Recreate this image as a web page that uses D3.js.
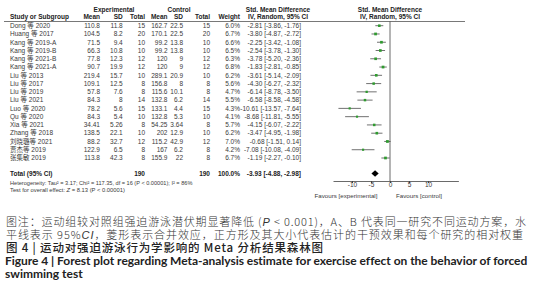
<!DOCTYPE html>
<html>
<head>
<meta charset="utf-8">
<script src="https://cdn.jsdelivr.net/npm/d3@7"></script>
<style>
  body { margin: 0; background: #fff; }
  svg { display: block; font-family: "Liberation Sans", Arial, "Noto Sans CJK SC", sans-serif; }
</style>
</head>
<body>
<svg id="chart"></svg>
<script>
// Study rows
const studies = ["Dong 等 2020", "Huang 等 2017", "Kang 等 2019-A", "Kang 等 2019-B", "Kang 等 2021-B", "Kang 等 2021-A",
  "Liu 等 2013", "Liu 等 2017", "Liu 等 2019", "Liu 等 2021", "Luo 等 2020", "Qu 等 2020", "Xia 等 2021",
  "Zhang 等 2018", "刘晓璐等 2021", "贾杰等 2019", "张集敏 2019"];
const expMean = [110.8, 104.5, 71.5, 66.3, 77.8, 90.7, 219.4, 109.1, 57.8, 84.3, 78.2, 84.3, 34.41, 138.5, 88.2, 122.9, 113.8];
const expSD = [11.8, 8.2, 9.4, 10.8, 12.3, 19.9, 15.7, 12.5, 7.6, 8, 5.6, 5.4, 5.26, 22.1, 32.7, 6.5, 42.3];
const expN = [15, 20, 10, 10, 12, 12, 10, 8, 8, 14, 15, 10, 8, 10, 12, 8, 8];
const ctlMean = [162.7, 170.1, 99.2, 99.2, 120, 120, 289.1, 156.8, 115.6, 132.8, 133.1, 132.8, 54.25, 202, 115.2, 167, 155.9];
const ctlSD = [22.5, 22.5, 13.8, 13.8, 9, 9, 20.9, 8, 10.1, 6.2, 4.4, 5.3, 3.64, 12.9, 42.9, 6.2, 22];
const ctlN = [15, 20, 10, 10, 12, 12, 10, 8, 8, 14, 15, 10, 8, 10, 12, 8, 8];
const weights = [6.0, 6.7, 6.6, 6.5, 6.3, 6.8, 6.2, 5.6, 4.7, 5.5, 4.3, 4.1, 5.7, 6.2, 7.0, 4.2, 6.7];
const smd = [-2.81, -3.80, -2.25, -2.54, -3.78, -1.83, -3.61, -4.30, -6.14, -6.58, -10.61, -8.68, -4.15, -3.47, -0.68, -7.08, -1.19];
const ciLow = [-3.86, -4.87, -3.42, -3.78, -5.20, -2.81, -5.14, -6.27, -8.78, -8.58, -13.57, -11.81, -6.07, -4.95, -1.51, -10.08, -2.27];
const ciHigh = [-1.76, -2.72, -1.08, -1.30, -2.36, -0.85, -2.09, -2.32, -3.50, -4.58, -7.64, -5.55, -2.22, -1.98, 0.14, -4.09, -0.10];

// Pooled result
const totalExp = 190;
const totalCtl = 190;
const pooled = [-3.93, -4.88, -2.98];

// Axis ticks and captions
const tickValues = [-10, -5, 0, 5, 10];
const heterogeneity = "Heterogeneity: Tau² = 3.17; Chi² = 117.35, df = 16 (P < 0.00001); I² = 86%";
const captionZh = [
  ["图注：运动组较对照组强迫游泳潜伏期显著降低 (", "P", " < 0.001)，A、B 代表同一研究不同运动方案，水"],
  ["平线表示 95%", "CI", "，菱形表示合并效应，正方形及其大小代表估计的干预效果和每个研究的相对权重"]
];
const captionTitle = "图 4 | 运动对强迫游泳行为学影响的 Meta 分析结果森林图";
const captionEn = ["Figure 4 | Forest plot regarding Meta-analysis estimate for exercise effect on the behavior of forced", "swimming test"];

const W = 533, H = 300;
const svg = d3.select("#chart").attr("width", W).attr("height", H);
svg.append("rect").attr("width", W).attr("height", H).attr("fill", "#fff");

const fs = 6.5;
const txt = "#3a3a3a";

// Scales
const y = d3.scalePoint().domain(studies).range([25.7, 158]);
const x = d3.scaleLinear().domain([-15, 18]).range([333, 458.4]);
const fmt = v => v.toFixed(2);
const ciText = (m, lo, hi) => `${fmt(m)} [${fmt(lo)}, ${fmt(hi)}]`;

function label(g, xp, yp, s, anchor, bold) {
  return g.append("text").attr("x", xp).attr("y", yp).attr("text-anchor", anchor || "start")
    .attr("font-size", fs).attr("font-weight", bold ? "bold" : "normal")
    .attr("fill", bold ? "#222" : txt).text(s);
}

// stretch a text to a target width with letter spacing (justified caption lines)
function fitWidth(sel, target) {
  const n = sel.text().length;
  const len = sel.node().getComputedTextLength();
  sel.attr("letter-spacing", ((target - len) / (n - 1)).toFixed(3));
}

// Headers
const head = svg.append("g");
label(head, 114, 11.5, "Experimental", "middle", true);
label(head, 179, 11.5, "Control", "middle", true);
label(head, 278, 11.5, "Std. Mean Difference", "middle", true);
label(head, 278, 19.3, "IV, Random, 95% CI", "middle", true);
label(head, 390, 11.5, "Std. Mean Difference", "middle", true);
label(head, 390, 19.3, "IV, Random, 95% CI", "middle", true);
label(head, 10, 19.3, "Study or Subgroup", "start", true);
[["Mean", 100], ["SD", 122.7], ["Total", 145], ["Mean", 167.5], ["SD", 183], ["Total", 210], ["Weight", 240]]
  .forEach(([s, xp]) => label(head, xp, 19.3, s, "end", true));
head.append("line").attr("x1", 4).attr("x2", 465).attr("y1", 21.5).attr("y2", 21.5)
  .attr("stroke", "#555").attr("stroke-width", 0.8);

// Table rows
const cols = [
  [expMean, 100], [expSD, 122.7], [expN, 145],
  [ctlMean, 167.5], [ctlSD, 183], [ctlN, 210]
];
const rows = svg.append("g");
studies.forEach((s, i) => {
  const yy = y(s) + 2.3;
  label(rows, 10, yy, s);
  cols.forEach(([arr, xp]) => label(rows, xp, yy, String(arr[i]), "end"));
  label(rows, 240, yy, weights[i].toFixed(1) + "%", "end");
  label(rows, 301, yy, ciText(smd[i], ciLow[i], ciHigh[i]), "end");
});

// Zero line
svg.append("line").attr("x1", x(0)).attr("x2", x(0)).attr("y1", 21.5).attr("y2", 181)
  .attr("stroke", "#444").attr("stroke-width", 0.8);

// CI lines and weight squares
const plot = svg.append("g");
plot.selectAll(".ci").data(studies).enter().append("line")
  .attr("class", "ci")
  .attr("x1", (d, i) => x(ciLow[i])).attr("x2", (d, i) => x(ciHigh[i]))
  .attr("y1", d => y(d)).attr("y2", d => y(d))
  .attr("stroke", "#333").attr("stroke-width", 0.7);
plot.selectAll(".sq").data(studies).enter().append("rect")
  .attr("class", "sq")
  .attr("width", (d, i) => Math.sqrt(weights[i]) * 1.05)
  .attr("height", (d, i) => Math.sqrt(weights[i]) * 1.05)
  .attr("x", (d, i) => x(smd[i]) - Math.sqrt(weights[i]) * 0.525)
  .attr("y", (d, i) => y(d) - Math.sqrt(weights[i]) * 0.525)
  .attr("fill", "#2f9a2f");

// Total row
const yTot = 173.5;
label(svg, 10, yTot + 2.3, "Total (95% CI)", "start", true);
label(svg, 145, yTot + 2.3, String(totalExp), "end", true);
label(svg, 210, yTot + 2.3, String(totalCtl), "end", true);
label(svg, 240, yTot + 2.3, "100.0%", "end", true);
label(svg, 301, yTot + 2.3, ciText(pooled[0], pooled[1], pooled[2]), "end", true);
svg.append("path")
  .attr("d", `M${x(pooled[1])},${yTot} L${x(pooled[0])},${yTot - 3.2} L${x(pooled[2])},${yTot} L${x(pooled[0])},${yTot + 3.2} Z`)
  .attr("fill", "#000");

label(svg, 10, 184.8, heterogeneity).attr("font-size", 5.6);
const t = label(svg, 10, 192, "Test for overall effect: ").attr("font-size", 5.8);
t.append("tspan").attr("font-style", "italic").text("Z");
t.append("tspan").text(" = 8.13 (P < 0.00001)");

// Axis
const axis = svg.append("g")
  .attr("transform", "translate(0,181)")
  .call(d3.axisBottom(x).tickValues(tickValues).tickSize(2).tickSizeOuter(0).tickFormat(d => String(d)));
axis.select(".domain").attr("stroke", "#444").attr("stroke-width", 0.8);
axis.selectAll(".tick line").attr("stroke", "#444");
axis.selectAll(".tick text").attr("font-size", fs).attr("fill", txt).attr("dy", "0.55em").attr("y", 2.5)
  .attr("font-family", "Liberation Sans, Arial, sans-serif");

label(svg, 346, 197.5, "Favours [experimental]", "middle").attr("font-size", 6.2);
label(svg, 419, 197.5, "Favours [control]", "middle").attr("font-size", 6.2);

// Captions
const cap = svg.append("g").attr("font-family", "'Noto Sans CJK SC', sans-serif").attr("fill", "#333");
const zhY = [226, 239];
const zhLen = [520, 517];
captionZh.forEach((parts, k) => {
  const tx = cap.append("text").attr("x", 6).attr("y", zhY[k]).attr("font-size", 11)
    .attr("font-weight", 300);
  parts.forEach((p, j) => tx.append("tspan").attr("font-style", j === 1 ? "italic" : "normal")
    .attr("font-family", j === 1 ? "'Liberation Sans', sans-serif" : null).text(p));
  fitWidth(tx, zhLen[k]);
});
const ttl = cap.append("text").attr("x", 6).attr("y", 251.8).attr("font-size", 11.5).attr("font-weight", 500)
  .attr("fill", "#222").text(captionTitle);
fitWidth(ttl, 317);
const en = cap.append("text").attr("x", 5).attr("y", 265).attr("font-size", 12).attr("font-weight", "bold")
  .attr("font-family", "Lato, sans-serif").attr("fill", "#222").text(captionEn[0]);
fitWidth(en, 522);
cap.append("text").attr("x", 5).attr("y", 277.5).attr("font-size", 12).attr("font-weight", "bold")
  .attr("font-family", "Lato, sans-serif").attr("fill", "#222").text(captionEn[1]);
</script>
</body>
</html>
